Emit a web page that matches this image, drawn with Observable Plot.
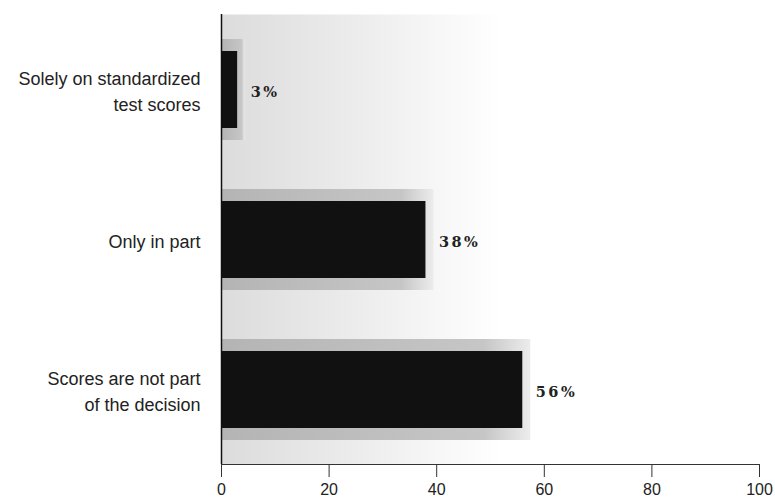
<!DOCTYPE html>
<html>
<head>
<meta charset="utf-8">
<script src="https://cdn.jsdelivr.net/npm/d3@7"></script>
<script src="https://cdn.jsdelivr.net/npm/@observablehq/plot@0.6"></script>
<style>
  html, body { margin: 0; padding: 0; background: #fff; }
  #chart svg { display: block; }
  .vlabel text { letter-spacing: 2.5px; }
</style>
</head>
<body>
<div id="chart"></div>
<script>
const categories = [
  "Solely on standardized\ntest scores",
  "Only in part",
  "Scores are not part\nof the decision"
];
const values = [3, 38, 56];
const valueLabels = ["3%", "38%", "56%"];
const xTicks = [0, 20, 40, 60, 80, 100];

const data = categories.map((c, i) => ({category: c, value: values[i], label: valueLabels[i]}));

const plot = Plot.plot({
  width: 775,
  height: 500,
  marginLeft: 221,
  marginRight: 16,
  marginTop: 14,
  marginBottom: 36,
  style: {fontFamily: "'Liberation Sans', Arial, sans-serif", background: "#fff", overflow: "visible"},
  x: {domain: [0, 100], ticks: xTicks},
  y: {domain: categories, paddingInner: 0.49, paddingOuter: 0.24, label: null},
  marks: [
    Plot.frame({fill: "url(#bgGrad)", stroke: "none"}),
    Plot.barX(data, {x: "value", y: "category", fill: "url(#haloGrad)", insetTop: -12, insetBottom: -12, insetRight: -8}),
    Plot.barX(data, {x: "value", y: "category", fill: "#111"}),
    Plot.text(data, {x: "value", y: "category", text: "label", textAnchor: "start", dx: 13, dy: 2,
      className: "vlabel",
      fontFamily: "'DejaVu Serif', 'Liberation Serif', serif", fontWeight: "bold", fontSize: 14.5, fill: "#222"}),
    Plot.ruleX([0], {stroke: "#111", strokeWidth: 1.5}),
    Plot.frame({anchor: "bottom", stroke: "#333"}),
    Plot.axisX({ticks: xTicks, tickSize: 13, tickPadding: 6, fontSize: 16, label: null, stroke: "#333", fill: "#222"}),
    Plot.axisY({tickSize: 0, tickPadding: 21, fontSize: 18, lineHeight: 1.4, label: null, fill: "#222"})
  ]
});

const svg = d3.select(plot);
const defs = svg.insert("defs", ":first-child");
const bg = defs.append("linearGradient").attr("id", "bgGrad").attr("x1", "0").attr("x2", "1").attr("y1", "0").attr("y2", "0");
bg.append("stop").attr("offset", "0").attr("stop-color", "#dcdcdc");
bg.append("stop").attr("offset", "0.25").attr("stop-color", "#ececec");
bg.append("stop").attr("offset", "0.52").attr("stop-color", "#ffffff");
const halo = defs.append("linearGradient").attr("id", "haloGrad").attr("x1", "0").attr("x2", "1").attr("y1", "0").attr("y2", "0");
halo.append("stop").attr("offset", "0").attr("stop-color", "#b4b4b4");
halo.append("stop").attr("offset", "0.85").attr("stop-color", "#c6c6c6");
halo.append("stop").attr("offset", "1").attr("stop-color", "#ececec");

document.getElementById("chart").appendChild(plot);
</script>
</body>
</html>
